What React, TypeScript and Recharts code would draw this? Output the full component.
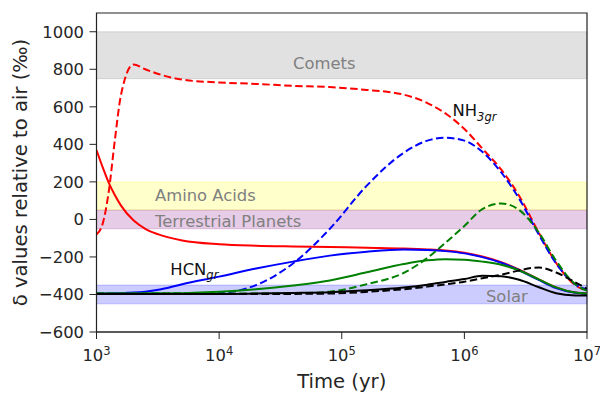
import React from "react";
import { LineChart, Line, XAxis, YAxis, ReferenceArea, ReferenceDot } from "recharts";

const time = [1000, 1120, 1260, 1410, 1580, 2000, 2500, 3200, 5000, 1e4, 2e4, 4e4, 8e4, 1.6e5, 3.2e5, 5e5, 7e5, 1e6, 1.4e6, 2e6, 2.8e6, 4e6, 5.6e6, 8e6, 1e7];

const redDashed = [-80, -25, 150, 420, 660, 825, 800, 775, 745, 730, 722, 712, 705, 690, 665, 620, 565, 482, 378, 265, 125, -65, -232, -350, -380];
const blueDashed = [-395, -395, -395, -395, -395, -395, -395, -395, -394, -392, -350, -235, -50, 180, 355, 420, 435, 420, 360, 250, 110, -75, -235, -345, -375];
const greenDashed = [-395, -395, -395, -395, -395, -395, -395, -395, -395, -395, -395, -394, -385, -345, -285, -205, -125, -35, 55, 85, 50, -65, -220, -345, -380];
const redSolid = [370, 280, 195, 130, 75, -5, -50, -80, -112, -132, -140, -144, -147, -151, -155, -160, -166, -178, -198, -228, -268, -318, -363, -390, -395];
const blueSolid = [-395, -395, -395, -394, -393, -390, -385, -375, -345, -305, -262, -225, -193, -172, -160, -163, -169, -181, -201, -231, -271, -321, -366, -391, -396];
const greenSolid = [-395, -395, -395, -395, -395, -395, -394, -394, -393, -386, -372, -352, -325, -282, -238, -218, -212, -215, -225, -242, -272, -318, -362, -390, -396];
const blackSolid = [-398, -398, -398, -398, -398, -398, -398, -398, -397, -397, -395, -392, -388, -378, -363, -348, -333, -318, -300, -303, -322, -360, -393, -405, -406];
const blackDashed = [-398, -398, -398, -398, -398, -398, -398, -398, -398, -398, -398, -397, -395, -386, -372, -358, -346, -332, -313, -295, -272, -256, -283, -335, -370];

const xMajorTicks = [1e3, 1e4, 1e5, 1e6, 1e7];
const xMinorTicks = [2, 3, 4, 5, 6, 7, 8, 9].flatMap((m) => [m * 1e3, m * 1e4, m * 1e5, m * 1e6]);
const yTicks = [-600, -400, -200, 0, 200, 400, 600, 800, 1000];

const bands = [
  { name: "Comets", y1: 750, y2: 1000, color: "#808080", opacity: 0.24, labelX: 4e4, labelY: 800 },
  { name: "Amino Acids", y1: 50, y2: 200, color: "#ffff00", opacity: 0.2, labelX: 3000, labelY: 100 },
  { name: "Terrestrial Planets", y1: -50, y2: 50, color: "#800080", opacity: 0.2, labelX: 3000, labelY: -40 },
  { name: "Solar", y1: -450, y2: -350, color: "#0000ff", opacity: 0.2, labelX: 1.5e6, labelY: -440 },
];

const data = time.map((t, i) => ({
  t,
  redDashed: redDashed[i],
  blueDashed: blueDashed[i],
  greenDashed: greenDashed[i],
  redSolid: redSolid[i],
  blueSolid: blueSolid[i],
  greenSolid: greenSolid[i],
  blackSolid: blackSolid[i],
  blackDashed: blackDashed[i],
}));

const FONT = "DejaVu Sans";
const TXT = "#262626";
const DASH = "7.5 3.5";

const XTick = (props: any) => {
  const { x, y, payload } = props;
  const exp = Math.round(Math.log10(payload.value));
  return (
    <text x={x} y={y + 22} textAnchor="middle" fontFamily={FONT} fontSize={16.4} fill={TXT}>
      10
      <tspan dy={-6} fontSize={11.5}>{exp}</tspan>
    </text>
  );
};

const EmptyTick = () => <g />;

const fmtY = (v: number) => (v < 0 ? "\u2212" + Math.abs(v) : String(v));

export default function App() {
  return (
    <div style={{ position: "absolute", left: 0, top: 0 }}>
      <LineChart width={600} height={393} data={data} margin={{ top: 13, right: 13, bottom: 0, left: 0 }}>
        <XAxis
          xAxisId="minor"
          dataKey="t"
          type="number"
          scale="log"
          domain={[1e3, 1e7]}
          ticks={xMinorTicks}
          allowDataOverflow
          height={0}
          tickSize={4}
          axisLine={false}
          tick={EmptyTick}
          stroke="#222"
          interval={0}
        />
        <XAxis
          dataKey="t"
          type="number"
          scale="log"
          domain={[1e3, 1e7]}
          ticks={xMajorTicks}
          allowDataOverflow
          height={61}
          tickSize={7}
          tickMargin={0}
          tick={XTick}
          stroke="#222"
          interval={0}
          label={(p: any) => {
            const vb = p.viewBox || {};
            return (
              <text x={vb.x + vb.width / 2} y={vb.y + 56} textAnchor="middle" fontFamily={FONT} fontSize={19.6} fill={TXT}>
                Time (yr)
              </text>
            );
          }}
        />
        <YAxis
          type="number"
          domain={[-600, 1100]}
          ticks={yTicks}
          allowDataOverflow
          width={96.5}
          tickSize={7}
          tickMargin={5.5}
          stroke="#222"
          interval={0}
          tickFormatter={fmtY}
          tick={{ fontFamily: FONT, fontSize: 16.4, fill: TXT }}
          label={(p: any) => {
            const vb = p.viewBox || {};
            const cy = vb.y + vb.height / 2;
            return (
              <text x={27} y={cy} textAnchor="middle" transform={`rotate(-90, 27, ${cy})`} fontFamily={FONT} fontSize={19.6} fill={TXT}>
                δ values relative to air (‰)
              </text>
            );
          }}
        />
        {bands.map((b) => (
          <ReferenceArea
            key={b.name}
            y1={b.y1}
            y2={b.y2}
            fill={b.color}
            fillOpacity={b.opacity}
            stroke={b.color}
            strokeOpacity={b.opacity}
            strokeWidth={1}
            ifOverflow="visible"
          />
        ))}
        {bands.map((b) => (
          <ReferenceDot
            key={b.name + "-label"}
            x={b.labelX}
            y={b.labelY}
            r={0}
            shape={(p: any) => (
              <text x={p.cx} y={p.cy} fontFamily={FONT} fontSize={16.4} fill="#808080">
                {b.name}
              </text>
            )}
          />
        ))}
        <Line dataKey="redDashed" stroke="#ff0000" strokeWidth={2} strokeDasharray={DASH} dot={false} type="monotone" isAnimationActive={false} />
        <Line dataKey="redSolid" stroke="#ff0000" strokeWidth={2} dot={false} type="monotone" isAnimationActive={false} />
        <Line dataKey="blueDashed" stroke="#0000ff" strokeWidth={2} strokeDasharray={DASH} dot={false} type="monotone" isAnimationActive={false} />
        <Line dataKey="blueSolid" stroke="#0000ff" strokeWidth={2} dot={false} type="monotone" isAnimationActive={false} />
        <Line dataKey="greenDashed" stroke="#008000" strokeWidth={2} strokeDasharray={DASH} dot={false} type="monotone" isAnimationActive={false} />
        <Line dataKey="greenSolid" stroke="#008000" strokeWidth={2} dot={false} type="monotone" isAnimationActive={false} />
        <Line dataKey="blackDashed" stroke="#000000" strokeWidth={2} strokeDasharray={DASH} dot={false} type="monotone" isAnimationActive={false} />
        <Line dataKey="blackSolid" stroke="#000000" strokeWidth={2} dot={false} type="monotone" isAnimationActive={false} />
        <ReferenceDot
          x={8e5}
          y={550}
          r={0}
          shape={(p: any) => (
            <text x={p.cx} y={p.cy} fontFamily={FONT} fontSize={16.4} fill="#111">
              NH
              <tspan dy={4.5} fontSize={11.5} fontStyle="italic">3gr</tspan>
            </text>
          )}
        />
        <ReferenceDot
          x={4000}
          y={-295}
          r={0}
          shape={(p: any) => (
            <text x={p.cx} y={p.cy} fontFamily={FONT} fontSize={16.4} fill="#111">
              HCN
              <tspan dy={4.5} fontSize={11.5} fontStyle="italic">gr</tspan>
            </text>
          )}
        />
        <ReferenceArea x1={1e3} x2={1e7} y1={-600} y2={1100} fill="none" stroke="#222" strokeWidth={1.2} ifOverflow="visible" />
      </LineChart>
    </div>
  );
}
